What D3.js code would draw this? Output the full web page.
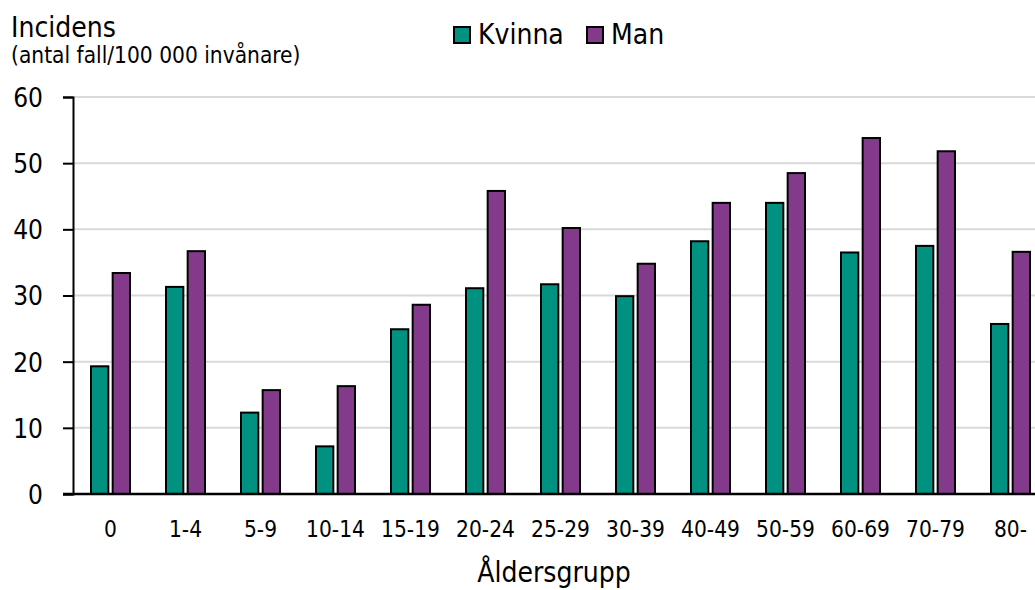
<!DOCTYPE html>
<html><head><meta charset="utf-8">
<script src="https://cdn.jsdelivr.net/npm/d3@7"></script>
<style>html,body{margin:0;padding:0;background:#fff;overflow:hidden}svg{display:block}svg text{font-family:"DejaVu Sans Condensed","DejaVu Sans",sans-serif;font-stretch:condensed;fill:#000}</style>
</head><body>
<svg id="c" width="1035" height="590"></svg>
<script>
const categories = ["0","1-4","5-9","10-14","15-19","20-24","25-29","30-39","40-49","50-59","60-69","70-79","80-"];
const seriesNames = ["Kvinna","Man"];
const kvinna = [19.3,31.3,12.3,7.2,24.9,31.1,31.7,29.9,38.2,44.0,36.5,37.5,25.7];
const man = [33.4,36.7,15.7,16.3,28.6,45.8,40.2,34.8,44.0,48.5,53.8,51.8,36.6];
const yTicks = [0,10,20,30,40,50,60];
const colors = {Kvinna:"#009180", Man:"#843a8b"};

(function(){
const svg = d3.select("#c");
const mLeft = 73, mTop = 97, mBottom = 494;
const x0 = d3.scaleBand().domain(categories).range([mLeft, mLeft + 75*13]).paddingInner(0.48).paddingOuter(0.24);
const x1 = d3.scaleBand().domain(seriesNames).range([0, x0.bandwidth()]).paddingInner(0.2);
const y = d3.scaleLinear().domain([0,60]).range([mBottom, mTop]);

svg.append("g").selectAll("line").data(yTicks.filter(d=>d>0)).join("line")
  .attr("x1", mLeft).attr("x2", 1035).attr("y1", d=>y(d)).attr("y2", d=>y(d))
  .attr("stroke", "#d9d9d9").attr("stroke-width", 2);

const data = categories.map((c,i)=>({cat:c, vals:[{s:"Kvinna",v:kvinna[i]},{s:"Man",v:man[i]}]}));
const g = svg.append("g").selectAll("g").data(data).join("g")
  .attr("transform", d=>`translate(${x0(d.cat)},0)`);
g.selectAll("rect").data(d=>d.vals).join("rect")
  .attr("x", d=>x1(d.s)).attr("width", x1.bandwidth())
  .attr("y", d=>y(d.v)).attr("height", d=>y(0)-y(d.v))
  .attr("fill", d=>colors[d.s]).attr("stroke", "#000").attr("stroke-width", 2);

const yAxis = d3.axisLeft(y).tickValues(yTicks).tickSize(10).tickPadding(8).tickFormat(d3.format("d"));
const ya = svg.append("g").attr("transform", `translate(${mLeft},0)`).call(yAxis);
ya.attr("font-family", null);
ya.select(".domain").attr("stroke","#000").attr("stroke-width",2);
ya.selectAll(".tick line").attr("stroke","#000").attr("stroke-width",2);
ya.selectAll(".tick text").attr("font-size", 26).attr("x", -30).attr("dy", "0.36em");

const xAxis = d3.axisBottom(x0).tickSize(0).tickPadding(27);
const xa = svg.append("g").attr("transform", `translate(0,${mBottom})`).call(xAxis);
xa.attr("font-family", null);
xa.select(".domain").remove();
svg.append("line").attr("x1", mLeft-10).attr("x2", 1035).attr("y1", mBottom).attr("y2", mBottom).attr("stroke","#000").attr("stroke-width",2.5);
xa.selectAll(".tick text").attr("font-size", 22.5);

svg.append("text").attr("x", 11).attr("y", 37).attr("font-size", 28).text("Incidens");
svg.append("text").attr("x", 11).attr("y", 63).attr("font-size", 22.5).text("(antal fall/100 000 invånare)");
svg.append("text").attr("x", 554).attr("y", 582).attr("text-anchor","middle").attr("font-size", 28).text("Åldersgrupp");

const legendX = [454, 587];
const lg = svg.append("g").selectAll("g").data(seriesNames).join("g")
  .attr("transform", (d,i)=>`translate(${legendX[i]},27)`);
lg.append("rect").attr("width",16).attr("height",16).attr("fill", d=>colors[d]).attr("stroke","#000").attr("stroke-width",2);
lg.append("text").attr("x", 24).attr("y", 17).attr("font-size", 28).text(d=>d);
})();
</script>
</body></html>
